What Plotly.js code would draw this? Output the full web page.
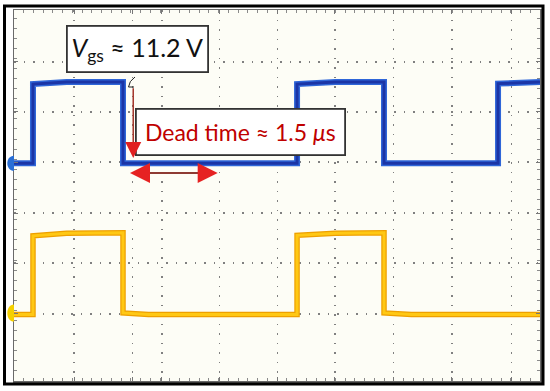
<!DOCTYPE html>
<html>
<head>
<meta charset="utf-8">
<script src="https://cdn.plot.ly/plotly-3.0.1.min.js"></script>
<style>html,body{margin:0;padding:0;background:#fff}#plot{width:550px;height:391px}</style>
</head>
<body>
<div id="plot"></div>
<script>
// time in microseconds (1 us per division), vertical position in screen divisions
const gridX = [1.03, 2.03, 2.53, 3.52, 4.51, 5.49, 6.49, 7.49, 8.51];
const gridY = [1.33, 2.34, 3.33, 4.34, 5.34, 6.33];

// CH1 (blue) gate signal
const ch1Time = [0, 0.325, 0.325, 0.9, 1.865, 1.865, 4.843, 4.843, 5.5, 6.331, 6.331, 8.282, 8.282, 9.0];
const ch1Level = [4.32, 4.32, 5.89, 5.93, 5.93, 4.32, 4.32, 5.89, 5.93, 5.93, 4.32, 4.32, 5.9, 5.93];

// CH2 (yellow) gate signal
const ch2Time = [0, 0.325, 0.325, 0.9, 1.865, 1.865, 2.3, 4.843, 4.843, 5.5, 6.331, 6.331, 6.8, 9.0];
const ch2Level = [1.32, 1.32, 2.88, 2.93, 2.94, 1.35, 1.32, 1.32, 2.89, 2.93, 2.94, 1.35, 1.32, 1.32];

const vgsLabel = "<i>V</i><sub>gs</sub> ≈ 11.2 V";
const deadLabel = "Dead time ≈ 1.5 <i>μ</i>s";
const deadStart = 1.985;
const deadTime = 1.5;
const arrowY = 4.127;
const markerX = 2.04;

// pixel -> paper helpers for the frame decorations
const L = 14, T = 10, W = 526, H = 371;
function px(x) { return (x - L) / W; }
function py(y) { return (T + H - y) / H; }

function chanMark(y, r, color) {
    return {
        type: "path", xref: "paper", yref: "y", layer: "above",
        path: `M 0,${y + r} C -0.017,${y + r} -0.017,${y - r} 0,${y - r} Z`,
        fillcolor: color, line: { width: 0 }
    };
}

let traces = [
    { x: ch1Time, y: ch1Level, mode: "lines", line: { color: "#2f66d8", width: 6 }, hoverinfo: "skip" },
    { x: ch1Time, y: ch1Level, mode: "lines", line: { color: "#1b35a6", width: 3 }, hoverinfo: "skip" },
    { x: ch2Time, y: ch2Level, mode: "lines", line: { color: "#eea000", width: 5.5 }, hoverinfo: "skip" },
    { x: ch2Time, y: ch2Level, mode: "lines", line: { color: "#ffc814", width: 3 }, hoverinfo: "skip" }
];

let axisCommon = {
    showticklabels: false, ticks: "inside", ticklen: 4, tickcolor: "#777",
    showgrid: true, gridcolor: "#808080", griddash: "1.5px,8px", gridwidth: 1.5,
    showline: true, linecolor: "#6a6a6a", linewidth: 1.5, mirror: "ticks",
    zeroline: false, fixedrange: true
};

let textFont = "Lato, 'Open Sans', sans-serif";

let layout = {
    width: 550, height: 391,
    margin: { l: 14, r: 10, t: 10, b: 10 },
    paper_bgcolor: "#ffffff",
    plot_bgcolor: "#fdfdf6",
    showlegend: false,
    xaxis: Object.assign({}, axisCommon, {
        range: [0, 9], tickmode: "array", tickvals: gridX,
        minor: { ticks: "inside", ticklen: 3, tickcolor: "#8a8a8a", tick0: 0, dtick: 0.1667, showgrid: false }
    }),
    yaxis: Object.assign({}, axisCommon, {
        range: [0, 7.36], tickmode: "array", tickvals: gridY,
        minor: { ticks: "inside", ticklen: 3, tickcolor: "#8a8a8a", tick0: 0, dtick: 0.2, showgrid: false }
    }),
    shapes: [
        // outer black frame
        { type: "rect", xref: "paper", yref: "paper", x0: px(4.5), x1: px(543), y0: py(384), y1: py(6),
          line: { color: "#000", width: 3 }, layer: "above" },
        // vertical dead-time marker line
        { type: "line", xref: "x", yref: "y", x0: markerX, x1: markerX, y0: 5.81, y1: 4.5,
          line: { color: "#a3352a", width: 1.5 } },
        // horizontal dead-time span
        { type: "line", xref: "x", yref: "y", x0: deadStart + 0.12, x1: deadStart + deadTime - 0.12, y0: arrowY, y1: arrowY,
          line: { color: "#8e3b33", width: 2 } },
        // small curl above the marker
        { type: "path", xref: "paper", yref: "paper",
          path: `M ${px(135)},${py(77)} Q ${px(129)},${py(81)} ${px(128.5)},${py(87)} L ${px(134)},${py(87)}`,
          line: { color: "#222", width: 1 } },
        chanMark(4.32, 0.15, "#2a6fd6"),
        chanMark(1.35, 0.17, "#f5d000")
    ],
    annotations: [
        { x: 2.113, y: 6.587, xref: "x", yref: "y", text: vgsLabel, showarrow: false,
          font: { family: textFont, size: 25, color: "#111" },
          bgcolor: "#ffffff", bordercolor: "#333", borderwidth: 1.8, borderpad: 0, width: 139, height: 44 },
        { x: 3.876, y: 4.94, xref: "x", yref: "y", text: deadLabel, showarrow: false,
          font: { family: textFont, size: 23, color: "#c00000" },
          bgcolor: "#ffffff", bordercolor: "#333", borderwidth: 1.8, borderpad: 0, width: 207, height: 44 },
        // arrow heads
        { x: markerX, y: 4.425, ax: 0, ay: -12, xref: "x", yref: "y", text: "", showarrow: true,
          arrowhead: 2, arrowsize: 1.6, arrowwidth: 2, arrowcolor: "#e02020" },
        { x: deadStart, y: arrowY, ax: 12, ay: 0, xref: "x", yref: "y", text: "", showarrow: true,
          arrowhead: 2, arrowsize: 1.6, arrowwidth: 2.5, arrowcolor: "#e62222" },
        { x: deadStart + deadTime, y: arrowY, ax: -12, ay: 0, xref: "x", yref: "y", text: "", showarrow: true,
          arrowhead: 2, arrowsize: 1.6, arrowwidth: 2.5, arrowcolor: "#e62222" }
    ]
};

Plotly.newPlot("plot", traces, layout, { staticPlot: true, displayModeBar: false });
</script>
</body>
</html>
